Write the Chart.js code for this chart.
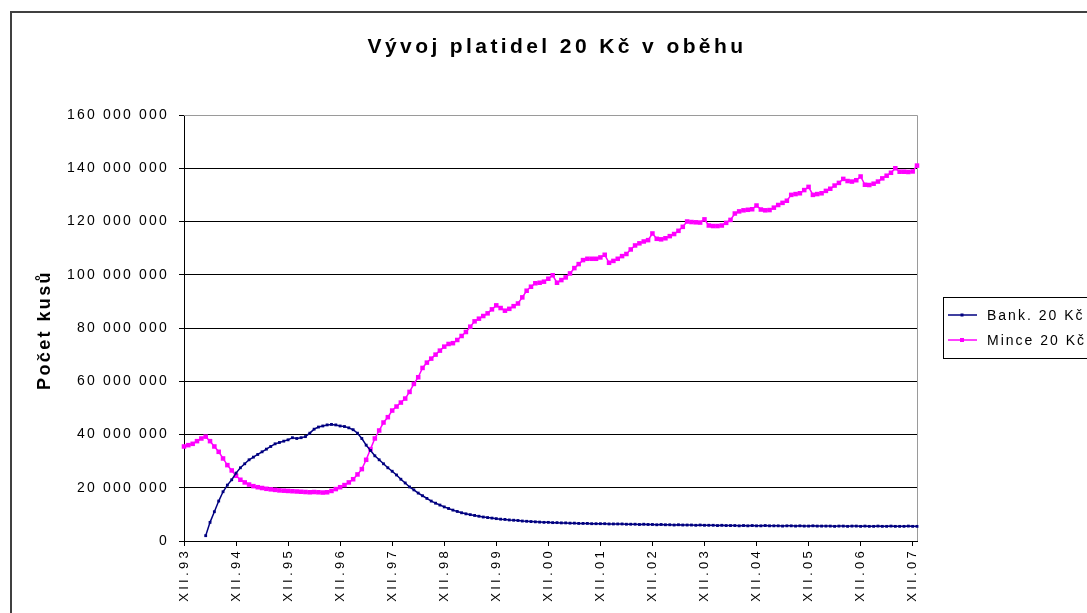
<!DOCTYPE html>
<html><head><meta charset="utf-8">
<script src="https://cdn.jsdelivr.net/npm/chart.js@4.4.1/dist/chart.umd.min.js"></script>
<style>html,body{margin:0;padding:0;background:#fff;overflow:hidden}#wrap{width:1087px;height:613px;position:relative}</style>
</head><body><div id="wrap"><canvas id="c" width="1087" height="613"></canvas></div>
<script>
const chartTitle = 'Vývoj platidel 20 Kč v oběhu';
const yAxisTitle = 'Počet kusů';
const seriesNames = ['Bank. 20 Kč', 'Mince 20 Kč'];
const seriesColors = ['#000080', '#FF00FF'];
const romanMonths = ['I','II','III','IV','V','VI','VII','VIII','IX','X','XI','XII'];
const firstMonth = 12, firstYear = 1993, monthCount = 170;
const yMin = 0, yMax = 160000000, yStep = 20000000;
const unit = 1000000;
// values in millions of pieces, monthly from XII.93
const bank = [null,null,null,null,null,2,7,11,15,18.5,
21,23,25.5,27.5,29,30.5,31.5,32.5,33.5,34.5,
35.5,36.5,37,37.5,38,38.8,38.5,38.8,39.2,40.5,
42,42.8,43.2,43.6,43.8,43.6,43.2,43,42.5,41.8,
40.5,38.5,36,34,32,30.5,29,27.5,26.2,24.8,
23.2,21.8,20.3,19.2,18,17,16,15,14.2,13.5,
12.8,12.2,11.6,11.1,10.6,10.2,9.9,9.6,9.3,9,
8.8,8.6,8.4,8.2,8.1,7.9,7.8,7.7,7.5,7.4,
7.3,7.2,7.1,7.0,7.0,6.9,6.9,6.8,6.8,6.7,
6.7,6.6,6.6,6.6,6.5,6.5,6.5,6.5,6.4,6.4,
6.4,6.4,6.3,6.3,6.3,6.2,6.3,6.2,6.2,6.1,
6.2,6.1,6.1,6.0,6.1,6.0,6.0,6.0,5.9,6.0,
5.9,5.9,5.9,5.8,5.9,5.8,5.8,5.8,5.7,5.8,
5.7,5.8,5.7,5.7,5.8,5.7,5.7,5.7,5.6,5.7,
5.7,5.6,5.7,5.6,5.6,5.7,5.6,5.6,5.6,5.6,
5.5,5.6,5.6,5.5,5.6,5.6,5.5,5.6,5.5,5.5,
5.6,5.5,5.5,5.6,5.5,5.5,5.5,5.6,5.5,5.5];
const coins = [35.5,36,36.5,37.5,38.5,39.2,37.5,35.5,33.5,31,
28.5,26.5,24.5,23,22,21.2,20.6,20.2,19.9,19.6,
19.4,19.2,19.0,18.9,18.8,18.7,18.6,18.5,18.4,18.3,
18.4,18.3,18.2,18.3,18.8,19.5,20.2,21.0,22.0,23.2,
25.0,27.0,30.5,34.5,38.5,41.5,44.5,46.5,49,50.5,
52,53.5,56,59,61.5,65,67,68.5,70,71.5,
73,74,74.3,75.5,77,78.5,80.5,82.5,83.5,84.5,
85.5,87,88.5,87.5,86.5,87.2,88.2,89.2,91.5,94,
95.5,96.8,97,97.4,98.5,99.8,97,98,99,100.5,
102.5,104,105.5,106,106,106,106.5,107.5,104.5,105.2,
106,107,107.8,109.5,111,111.8,112.5,113,115.5,113.5,
113.3,113.7,114.5,115.3,116.5,118,120,119.8,119.7,119.6,
120.8,118.5,118.3,118.3,118.5,119.5,120.6,123,123.8,124.2,
124.4,124.6,126,124.5,124.2,124.3,125.2,126.2,127,127.8,
130,130.3,130.6,131.8,133,130,130.3,130.6,131.5,132.3,
133.5,134.5,136,135.2,135,135.5,136.9,133.8,133.7,134.2,
135,136.2,137.2,138.3,140,138.7,138.7,138.6,138.8,141];

const monthIdx = [], categories = [];
for (let i = 0; i < monthCount; i++) {
  const m = (firstMonth - 1 + i) % 12;
  const y = firstYear + Math.floor((firstMonth - 1 + i) / 12);
  monthIdx.push(m);
  categories.push(romanMonths[m] + '.' + String(y % 100).padStart(2, '0'));
}
const isYearTick = i => monthIdx[i] === 11;
const fmt = v => String(v).replace(/\B(?=(\d{3})+(?!\d))/g, ' ');

const FONT = '"Liberation Sans", Arial, sans-serif';
const box = {left: 184, right: 917, top: 115, bottom: 541};

const decor = {
  id: 'decor',
  beforeUpdate(chart) { chart.ctx.letterSpacing = '2.2px'; },
  afterUpdate(chart) {
    const xs = chart.scales.x;
    if (xs && !xs._wrapped) {
      const orig = xs.drawLabels;
      xs.drawLabels = function (area) {
        const ctx = this.ctx;
        const prev = ctx.letterSpacing;
        ctx.letterSpacing = '3.3px';
        orig.call(this, area);
        ctx.letterSpacing = prev;
      };
      xs._wrapped = true;
    }
  },
  beforeDatasetsDraw(chart) {
    const ctx = chart.ctx, a = chart.chartArea;
    ctx.save();
    ctx.strokeStyle = '#9a9a9a'; ctx.lineWidth = 1;
    ctx.beginPath();
    ctx.moveTo(a.left, a.top + 0.5); ctx.lineTo(a.right + 0.5, a.top + 0.5);
    ctx.lineTo(a.right + 0.5, a.bottom);
    ctx.stroke();
    ctx.restore();
  },
  afterDraw(chart) {
    const ctx = chart.ctx, a = chart.chartArea;
    ctx.save();
    // outer frame
    ctx.strokeStyle = '#404040'; ctx.lineWidth = 2;
    ctx.strokeRect(11, 12, 1200, 700);
    // title
    ctx.fillStyle = '#000';
    ctx.letterSpacing = '3.4px';
    ctx.font = 'bold 21px ' + FONT;
    ctx.textAlign = 'center'; ctx.textBaseline = 'middle';
    ctx.fillText(chartTitle, 557, 47);
    // y title
    ctx.save();
    ctx.translate(45, (a.top + a.bottom) / 2 + 2);
    ctx.rotate(-Math.PI / 2);
    ctx.letterSpacing = '2.4px';
    ctx.font = 'bold 18px ' + FONT;
    ctx.fillText(yAxisTitle, 0, 0);
    ctx.restore();
    // legend
    ctx.lineWidth = 1; ctx.strokeStyle = '#000';
    ctx.strokeRect(943.5, 297.5, 200, 61);
    ctx.letterSpacing = '2px';
    ctx.font = '14px ' + FONT;
    ctx.textAlign = 'left';
    const rows = [315, 340];
    for (let k = 0; k < 2; k++) {
      const y = rows[k];
      ctx.strokeStyle = seriesColors[k]; ctx.lineWidth = 1.5;
      ctx.beginPath(); ctx.moveTo(948, y); ctx.lineTo(977, y); ctx.stroke();
      ctx.fillStyle = seriesColors[k];
      const s = k === 0 ? 3 : 4;
      ctx.fillRect(962 - s / 2, y - s / 2, s, s);
      ctx.fillStyle = '#000';
      ctx.fillText(seriesNames[k], 987, y + 1);
    }
    ctx.restore();
  }
};

new Chart(document.getElementById('c'), {
  type: 'line',
  data: {
    labels: categories,
    datasets: [
      {label: seriesNames[0], data: bank.map(v => v == null ? null : v * unit),
       borderColor: seriesColors[0], backgroundColor: seriesColors[0], borderWidth: 1.5,
       pointStyle: 'rect', pointRadius: 2, pointBorderWidth: 0, tension: 0},
      {label: seriesNames[1], data: coins.map(v => v * unit),
       borderColor: seriesColors[1], backgroundColor: seriesColors[1], borderWidth: 1.5,
       pointStyle: 'rect', pointRadius: 3.2, pointBorderWidth: 0, tension: 0}
    ]
  },
  options: {
    responsive: false, animation: false, devicePixelRatio: 1,
    layout: {padding: {left: 0, top: box.top, right: 1087 - box.right, bottom: 0}},
    plugins: {legend: {display: false}, title: {display: false}, tooltip: {enabled: false}},
    scales: {
      x: {
        type: 'category', offset: false,
        afterFit(s) { s.height = 613 - box.bottom; },
        border: {color: '#000', width: 1},
        grid: {drawOnChartArea: false, drawTicks: true, tickLength: 5,
               tickColor: c => isYearTick(c.index) ? '#000' : 'rgba(0,0,0,0)', tickWidth: 1},
        ticks: {autoSkip: false, minRotation: 90, maxRotation: 90, padding: 2, color: '#000',
                font: {family: FONT, size: 13},
                callback: (v, i) => isYearTick(i) ? categories[i] : ''}
      },
      y: {
        min: yMin, max: yMax,
        afterFit(s) { s.width = box.left; },
        border: {color: '#000', width: 1},
        grid: {color: c => (c.tick && c.tick.value === yMax) ? '#9a9a9a' : '#000',
               tickColor: '#000', tickLength: 5, lineWidth: 1},
        ticks: {stepSize: yStep, padding: 10, color: '#000',
                font: {family: FONT, size: 14}, callback: v => fmt(v)}
      }
    }
  },
  plugins: [decor]
});
</script></body></html>
